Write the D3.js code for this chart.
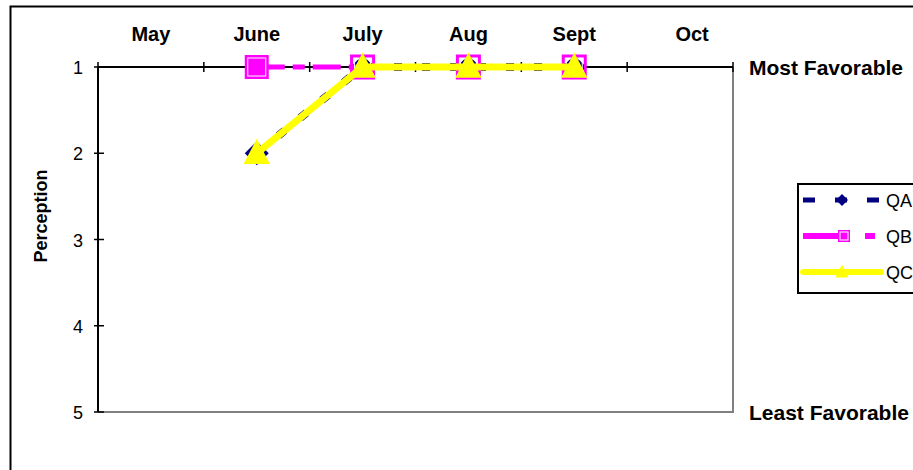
<!DOCTYPE html>
<html>
<head>
<meta charset="utf-8">
<script src="https://cdn.jsdelivr.net/npm/d3@7"></script>
<style>
  body { margin: 0; background: #fff; }
  svg { display: block; font-family: "Liberation Sans", Arial, sans-serif; }
</style>
</head>
<body>
<div class="chart"></div>
<script>
const months = ["May", "June", "July", "Aug", "Sept", "Oct"];
const yTicks = [1, 2, 3, 4, 5];
const qaValues = [null, 2, 1, 1, 1, null];
const qbValues = [null, 1, 1, 1, 1, null];
const qcValues = [null, 2, 1, 1, 1, null];

const W = 913, H = 470;
const margin = { top: 67, right: 180, bottom: 58, left: 98 };
const width = 733 - margin.left, height = 412 - margin.top;

const svg = d3.select(".chart").append("svg")
  .attr("width", W).attr("height", H);

// outer chart border
svg.append("rect")
  .attr("x", 10.5).attr("y", 6.5)
  .attr("width", W + 20).attr("height", H + 20)
  .attr("fill", "none").attr("stroke", "#000").attr("stroke-width", 2);

const g = svg.append("g").attr("transform", `translate(${margin.left},${margin.top})`);

const x = d3.scaleBand().domain(months).range([0, width]);
const y = d3.scaleLinear().domain([1, 5]).range([0, height]);

// plot area frame (right + bottom grey)
g.append("path")
  .attr("d", `M0,${height}H${width}V0`)
  .attr("fill", "none").attr("stroke", "#808080").attr("stroke-width", 2);

// top axis line with category boundary ticks
g.append("line").attr("x1", 0).attr("x2", width).attr("y1", 0).attr("y2", 0)
  .attr("stroke", "#000").attr("stroke-width", 2);
const bounds = months.map(m => x(m)).concat([width]);
g.selectAll(".xt").data(bounds).join("line")
  .attr("x1", d => d).attr("x2", d => d).attr("y1", -5).attr("y2", 5)
  .attr("stroke", "#000").attr("stroke-width", 1.5);
g.selectAll(".xl").data(months).join("text")
  .attr("x", (d, i) => x(d) + x.bandwidth() / 2 + (i === 5 ? 12 : 0))
  .attr("y", -26)
  .attr("text-anchor", "middle")
  .attr("font-size", 20).attr("font-weight", "bold")
  .text(d => d);

// left axis
g.append("line").attr("x1", 0).attr("x2", 0).attr("y1", 0).attr("y2", height)
  .attr("stroke", "#000").attr("stroke-width", 2);
g.selectAll(".yt").data(yTicks).join("line")
  .attr("x1", -4).attr("x2", 6).attr("y1", d => y(d)).attr("y2", d => y(d))
  .attr("stroke", "#000").attr("stroke-width", 1.5);
g.selectAll(".yl").data(yTicks).join("text")
  .attr("x", -15).attr("y", d => y(d) + 7)
  .attr("text-anchor", "end").attr("font-size", 18)
  .text(d => d);

svg.append("text")
  .attr("transform", `translate(47,216) rotate(-90)`)
  .attr("text-anchor", "middle").attr("font-size", 18).attr("font-weight", "bold")
  .text("Perception");

g.append("text").attr("x", width + 16).attr("y", 8)
  .attr("font-size", 21).attr("font-weight", "bold").text("Most Favorable");
g.append("text").attr("x", width + 16).attr("y", height + 8)
  .attr("font-size", 21).attr("font-weight", "bold").text("Least Favorable");

const cx = m => x(m) + x.bandwidth() / 2;
const line = d3.line()
  .defined(d => d.v != null)
  .x(d => cx(d.m)).y(d => y(d.v));
const toPts = vals => vals.map((v, i) => ({ m: months[i], v }));

const series = [
  { name: "QA", vals: qaValues, color: "#000080", width: 8, dash: "8,20", marker: "diamond" },
  { name: "QB", vals: qbValues, color: "#ff00ff", width: 5, dash: "28,8,12,8", marker: "square" },
  { name: "QC", vals: qcValues, color: "#ffff00", width: 7, dash: null, marker: "triangle" }
];

function drawMarker(sel, type, color, px, py, s) {
  if (type === "diamond") {
    const r = s / 2;
    sel.append("path")
      .attr("d", `M${px},${py - r}L${px + r},${py}L${px},${py + r}L${px - r},${py}Z`)
      .attr("fill", color);
  } else if (type === "square") {
    sel.append("rect").attr("x", px - s / 2).attr("y", py - s / 2)
      .attr("width", s).attr("height", s).attr("fill", color);
    sel.append("rect").attr("x", px - s / 2 + 3).attr("y", py - s / 2 + 3)
      .attr("width", s - 6).attr("height", s - 6)
      .attr("fill", "none").attr("stroke", "#fff").attr("stroke-width", 1);
  } else {
    sel.append("path")
      .attr("d", `M${px},${py - s * 0.6}L${px + s * 0.55},${py + s * 0.45}L${px - s * 0.55},${py + s * 0.45}Z`)
      .attr("fill", color);
  }
}

series.forEach(s => {
  g.append("path").datum(toPts(s.vals))
    .attr("d", line)
    .attr("fill", "none").attr("stroke", s.color)
    .attr("stroke-width", s.width)
    .attr("stroke-dasharray", s.dash);
  const mg = g.append("g");
  toPts(s.vals).filter(d => d.v != null).forEach((d, i) => {
    // QB squares after the first are drawn outline-only in the reference
    if (s.marker === "square" && i > 0) {
      mg.append("rect").attr("x", cx(d.m) - 11).attr("y", y(d.v) - 11)
        .attr("width", 22).attr("height", 22)
        .attr("fill", "none").attr("stroke", s.color).attr("stroke-width", 3);
      mg.append("rect").attr("x", cx(d.m) - 8).attr("y", y(d.v) - 8)
        .attr("width", 16).attr("height", 16)
        .attr("fill", "none").attr("stroke", "#fff").attr("stroke-width", 1);
    } else {
      drawMarker(mg, s.marker, s.color, cx(d.m), y(d.v), s.marker === "diamond" ? 24 : 24);
    }
  });
});

// legend
const lg = svg.append("g").attr("transform", "translate(797,183)");
lg.append("rect").attr("x", 1).attr("y", 1).attr("width", 200).attr("height", 109)
  .attr("fill", "#fff").attr("stroke", "#000").attr("stroke-width", 2);
series.forEach((s, i) => {
  const ly = 17 + i * 36;
  lg.append("line").attr("x1", 6).attr("x2", 84).attr("y1", ly).attr("y2", ly)
    .attr("stroke", s.color).attr("stroke-width", s.name === "QA" ? 5 : 6)
    .attr("stroke-dasharray", s.name === "QA" ? "12,20" : s.name === "QB" ? "42,20,10,8" : null)
    .attr("stroke-linecap", s.name === "QC" ? "round" : "butt");
  if (s.marker === "square") {
    lg.append("rect").attr("x", 41).attr("y", ly - 6).attr("width", 12).attr("height", 12)
      .attr("fill", s.color);
    lg.append("rect").attr("x", 43).attr("y", ly - 4).attr("width", 8).attr("height", 8)
      .attr("fill", "none").attr("stroke", "#fff").attr("stroke-width", 1);
  } else {
    drawMarker(lg, s.marker, s.color, 45, ly, 12);
  }
  lg.append("text").attr("x", 89).attr("y", ly + 7)
    .attr("font-size", 18).text(s.name);
});
</script>
</body>
</html>
